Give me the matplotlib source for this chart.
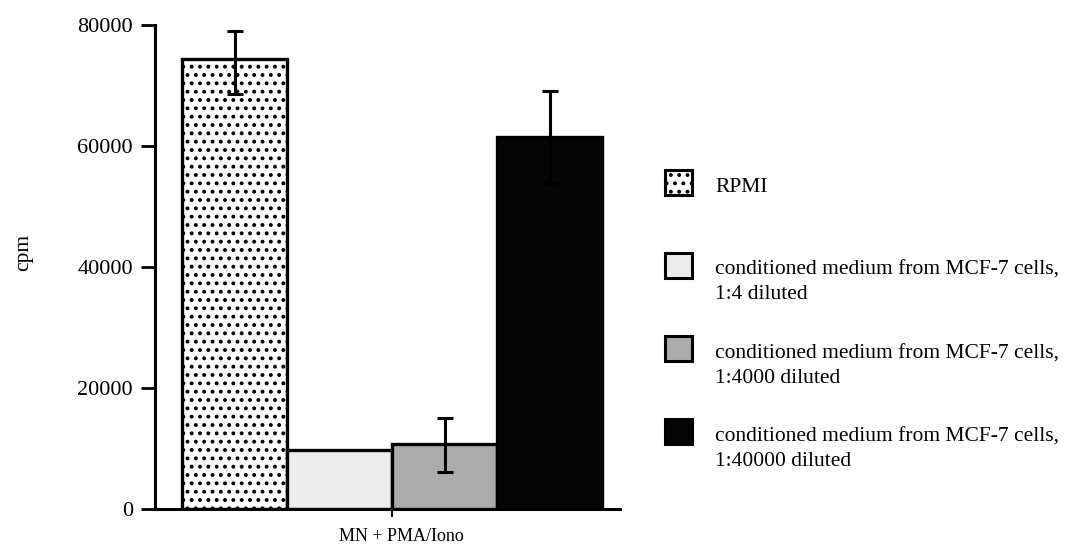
import numpy as np
import matplotlib.pyplot as plt
import matplotlib.transforms as mtransforms
from matplotlib.patches import Rectangle

plt.rcParams['font.family'] = ['Liberation Serif', 'DejaVu Serif']
plt.rcParams['hatch.linewidth'] = 1.6

# data
groups = ["MN + PMA/Iono"]
labels = ["RPMI",
          "conditioned medium from MCF-7 cells,\n1:4 diluted",
          "conditioned medium from MCF-7 cells,\n1:4000 diluted",
          "conditioned medium from MCF-7 cells,\n1:40000 diluted"]
cpm = [74400, 9700, 10700, 61500]
err_lo = [5800, 0, 4600, 7600]
err_hi = [4600, 0, 4300, 7600]

# look of each bar
faces = ["white", "#ededed", "#ababab", "#050505"]
hatches = ["..", None, None, None]

fig = plt.figure(figsize=(10.7, 5.48), dpi=100)
ax = fig.add_axes([155/1070, 1-509/548, 465/1070, 484/548])

x = np.arange(len(cpm))
ax.bar(x, cpm, width=1.0, color=faces, edgecolor="black", linewidth=2.4,
       hatch=hatches, zorder=2)
for i in range(len(cpm)):
    if err_hi[i] > 0:
        ax.errorbar(x[i], cpm[i], yerr=[[err_lo[i]], [err_hi[i]]], fmt="none",
                    ecolor="black", elinewidth=2.2, capsize=6, capthick=2.2,
                    zorder=3)

ax.set_xlim(-0.757, 3.67)
ax.set_ylim(0, 80000)
ax.set_yticks([0, 20000, 40000, 60000, 80000])
ax.set_xticks([1.5])
ax.set_xticklabels(groups)
ax.spines["top"].set_visible(False)
ax.spines["right"].set_visible(False)
for s in ["left", "bottom"]:
    ax.spines[s].set_linewidth(2.2)
ax.tick_params(axis="y", direction="out", length=10, width=2, labelsize=16, pad=6)
ax.tick_params(axis="x", direction="out", length=6, width=1.5, labelsize=13, pad=8)
shift = mtransforms.ScaledTranslation(9/100, 0, fig.dpi_scale_trans)
for t in ax.get_xticklabels():
    t.set_transform(t.get_transform() + shift)
ax.set_ylabel("cpm", fontsize=15.5)
ax.yaxis.set_label_coords((33-155)/465, (509-252)/484)

# legend drawn beside the axes
sq_x, sq_w, sq_h = 665/1070, 27/1070, 25/548
txt_x = 715/1070
sq_cy = [182.5, 265, 348, 431]
txt_base = [192, 299, 383, 466]   # baseline of the last line
for i in range(len(labels)):
    fig.add_artist(Rectangle((sq_x, 1-sq_cy[i]/548 - sq_h/2), sq_w, sq_h,
                             transform=fig.transFigure, facecolor=faces[i],
                             edgecolor="black", linewidth=2.2, hatch=hatches[i]))
    fig.text(txt_x, 1-txt_base[i]/548, labels[i], fontsize=15.5, va="baseline",
             ha="left", linespacing=1.4)

fig.savefig("out.png", dpi=100)
